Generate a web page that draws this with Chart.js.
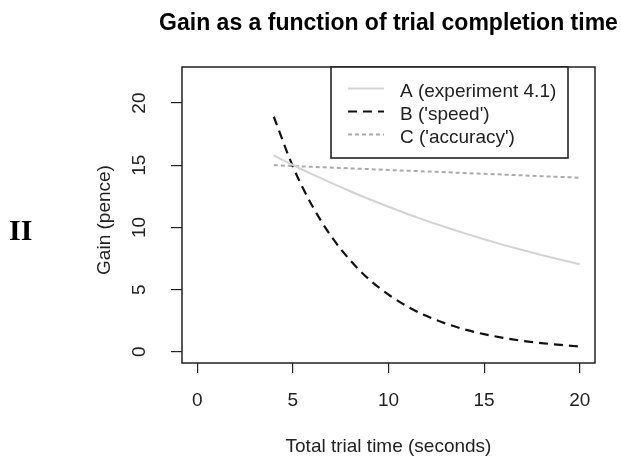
<!DOCTYPE html>
<html>
<head>
<meta charset="utf-8">
<title>Gain as a function of trial completion time</title>
<script src="https://cdn.jsdelivr.net/npm/chart.js@4/dist/chart.umd.min.js"></script>
<style>
	html, body {margin: 0; padding: 0; background: #fff;}
	#wrap {position: relative; width: 621px; height: 457px;}
</style>
</head>
<body>
<div id="wrap"><canvas id="chart_gain"></canvas></div>
<script>
'use strict';

// values read at each whole second
const trialTime = [4, 5, 6, 7, 8, 9, 10, 11, 12, 13, 14, 15, 16, 17, 18, 19, 20];
const gainA = [15.8, 15.02, 14.28, 13.58, 12.91, 12.27, 11.66, 11.08, 10.53, 10.01, 9.52, 9.05, 8.6, 8.18, 7.78, 7.4, 7.04];
const gainB = [18.9, 14.9, 11.77, 9.3, 7.35, 5.8, 4.6, 3.63, 2.87, 2.27, 1.79, 1.42, 1.12, 0.88, 0.7, 0.55, 0.43];
const gainC = [15.0, 14.94, 14.87, 14.81, 14.75, 14.69, 14.62, 14.56, 14.5, 14.44, 14.37, 14.31, 14.25, 14.19, 14.12, 14.06, 14.0];

const seriesLabels = ["A (experiment 4.1)", "B ('speed')", "C ('accuracy')"];
const xTickValues = [0, 5, 10, 15, 20];
const yTickValues = [0, 5, 10, 15, 20];

const chartTitle = 'Gain as a function of trial completion time';
const xTitle = 'Total trial time (seconds)';
const yTitle = 'Gain (pence)';
const panelLabel = 'II';

const FONT = '"Liberation Sans", Arial, Helvetica, sans-serif';
const INK = '#222';

function toPoints(ys) {
	return trialTime.map((x, i) => ({x: x, y: ys[i]}));
}

let datasets = [{
		label: seriesLabels[0],
		data: toPoints(gainA),
		borderColor: '#d3d3d3',
		borderWidth: 2,
	}, {
		label: seriesLabels[1],
		data: toPoints(gainB),
		borderColor: '#111',
		borderWidth: 2.2,
		borderDash: [9, 6],
	}, {
		label: seriesLabels[2],
		data: toPoints(gainC),
		borderColor: '#aaa',
		borderWidth: 2,
		borderDash: [4, 3],
	}];

// box, tick labels, titles and legend drawn in the R base-graphics style
const basePlot = {
	id: 'basePlot',
	afterDraw(chart) {
		let ctx = chart.ctx,
			area = chart.chartArea,
			xScale = chart.scales.x,
			yScale = chart.scales.y;
		ctx.save();

		ctx.strokeStyle = INK;
		ctx.lineWidth = 1.5;
		ctx.strokeRect(area.left, area.top, area.right - area.left, area.bottom - area.top);

		ctx.fillStyle = INK;
		ctx.font = `19px ${FONT}`;
		ctx.textAlign = 'center';
		ctx.textBaseline = 'alphabetic';
		xTickValues.forEach(v => {
			ctx.fillText(String(v), xScale.getPixelForValue(v), 405.5);
		});
		yTickValues.forEach(v => {
			ctx.save();
			ctx.translate(145, yScale.getPixelForValue(v));
			ctx.rotate(-Math.PI / 2);
			ctx.fillText(String(v), 0, 0);
			ctx.restore();
		});

		ctx.fillText(xTitle, (area.left + area.right) / 2, 451.5);
		ctx.save();
		ctx.translate(109.5, 220);
		ctx.rotate(-Math.PI / 2);
		ctx.fillText(yTitle, 0, 0);
		ctx.restore();

		ctx.fillStyle = '#000';
		ctx.font = `bold 23px ${FONT}`;
		ctx.fillText(chartTitle, (area.left + area.right) / 2, 29.5);

		ctx.font = 'bold 30px "Liberation Serif", "Times New Roman", serif';
		ctx.textAlign = 'left';
		ctx.fillText(panelLabel, 9, 240);

		// legend box in the top right corner of the plot
		let boxLeft = 331, boxRight = 568, boxTop = area.top, boxBottom = 158;
		ctx.fillStyle = '#fff';
		ctx.fillRect(boxLeft, boxTop, boxRight - boxLeft, boxBottom - boxTop);
		ctx.strokeStyle = INK;
		ctx.lineWidth = 1.6;
		ctx.strokeRect(boxLeft, boxTop, boxRight - boxLeft, boxBottom - boxTop);

		ctx.font = `19px ${FONT}`;
		chart.data.datasets.forEach((ds, i) => {
			let base = 97.3 + i * 23,
				lineY = base - 8.8;
			ctx.save();
			ctx.strokeStyle = ds.borderColor;
			ctx.lineWidth = ds.borderWidth;
			ctx.setLineDash(ds.borderDash || []);
			ctx.beginPath();
			ctx.moveTo(348, lineY);
			ctx.lineTo(384, lineY);
			ctx.stroke();
			ctx.restore();
			ctx.fillStyle = INK;
			ctx.fillText(ds.label, 400, base);
		});

		ctx.restore();
	},
};

function tickMarks(values) {
	return scale => {
		scale.ticks = values.map(v => ({value: v}));
	};
}

let config = {
	type: 'line',
	data: {datasets: datasets},
	options: {
		responsive: true,
		maintainAspectRatio: false,
		animation: false,
		layout: {padding: {top: 67, right: 26, bottom: 0, left: 0}},
		elements: {
			point: {radius: 0},
			line: {cubicInterpolationMode: 'monotone', fill: false},
		},
		plugins: {
			legend: {display: false},
			title: {display: false},
			tooltip: {enabled: false},
		},
		scales: {
			x: {
				type: 'linear',
				min: -0.8,
				max: 20.8,
				afterBuildTicks: tickMarks(xTickValues),
				afterFit: scale => { scale.height = 94; },
				ticks: {display: false},
				border: {display: false},
				grid: {drawOnChartArea: false, drawTicks: true, tickLength: 10, color: INK, lineWidth: 1.2},
			},
			y: {
				type: 'linear',
				min: -0.9,
				max: 22.9,
				afterBuildTicks: tickMarks(yTickValues),
				afterFit: scale => { scale.width = 182; },
				ticks: {display: false},
				border: {display: false},
				grid: {drawOnChartArea: false, drawTicks: true, tickLength: 11, color: INK, lineWidth: 1.2},
			},
		},
	},
	plugins: [basePlot],
};

window.ChartGain = new Chart(document.getElementById('chart_gain').getContext('2d'), config);
</script>
</body>
</html>
